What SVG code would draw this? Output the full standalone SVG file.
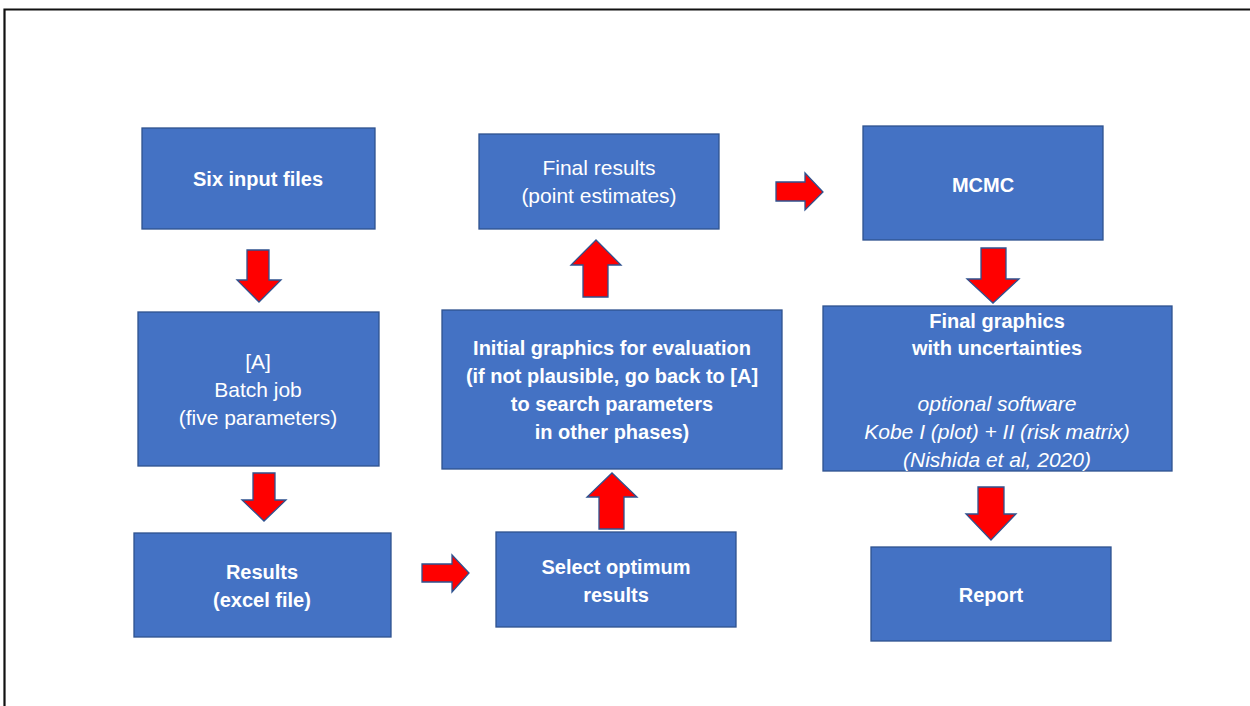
<svg xmlns="http://www.w3.org/2000/svg" width="1250" height="706" viewBox="0 0 1250 706">
<style>
.box{fill:#4472C4;stroke:#2F528F;stroke-width:1.3}
.arr{fill:#FF0000;stroke:#2F528F;stroke-width:1.3;stroke-linejoin:miter}
text{font-family:"Liberation Sans",Arial,sans-serif;font-size:21px;fill:#FFFFFF;text-anchor:middle}
.b{font-weight:bold;font-size:20px}
.i{font-style:italic}
</style>
<rect x="0" y="0" width="1250" height="706" fill="#FFFFFF"/>
<path d="M4.5 706 V9.5 H1250" fill="none" stroke="#111111" stroke-width="2.2"/>
<g id="connectors">
<polygon class="arr" points="247,250 269,250 269,280 281,280 259,302 237,280 247,280"/>
<polygon class="arr" points="253,473 275,473 275,500 286,500 264,521 242,500 253,500"/>
<polygon class="arr" points="422,564 452,564 452,555 469,573 452,592 452,582 422,582"/>
<polygon class="arr" points="599,529 624,529 624,497 637,497 612,473 587,497 599,497"/>
<polygon class="arr" points="583,297 608,297 608,265 621,265 596,240 571,265 583,265"/>
<polygon class="arr" points="776,182 805,182 805,173 823,192 805,210 805,201 776,201"/>
<polygon class="arr" points="981,248 1006,248 1006,279 1019,279 993,303 967,279 981,279"/>
<polygon class="arr" points="978,487 1004,487 1004,514 1016,514 991,540 966,514 978,514"/>
</g>
<g id="n1"><rect class="box" x="142" y="128" width="233" height="101"/><text class="b" x="258" y="186">Six input files</text></g>
<g id="n2"><rect class="box" x="138" y="312" width="241" height="154"/><text x="258" y="369">[A]</text><text x="258" y="397">Batch job</text><text x="258" y="425">(five parameters)</text></g>
<g id="n3"><rect class="box" x="134" y="533" width="257" height="104"/><text class="b" x="262" y="579">Results</text><text class="b" x="262" y="607">(excel file)</text></g>
<g id="n4"><rect class="box" x="496" y="532" width="240" height="95"/><text class="b" x="616" y="574">Select optimum</text><text class="b" x="616" y="602">results</text></g>
<g id="n5"><rect class="box" x="442" y="310" width="340" height="159"/><text class="b" x="612" y="355">Initial graphics for evaluation</text><text class="b" x="612" y="383">(if not plausible, go back to [A]</text><text class="b" x="612" y="411">to search parameters</text><text class="b" x="612" y="439">in other phases)</text></g>
<g id="n6"><rect class="box" x="479" y="134" width="240" height="95"/><text x="599" y="175">Final results</text><text x="599" y="203">(point estimates)</text></g>
<g id="n7"><rect class="box" x="863" y="126" width="240" height="114"/><text class="b" x="983" y="192">MCMC</text></g>
<g id="n8"><rect class="box" x="823" y="306" width="349" height="165"/><text class="b" x="997" y="328">Final graphics</text><text class="b" x="997" y="355">with uncertainties</text><text class="i" x="997" y="411">optional software</text><text class="i" x="997" y="439">Kobe I (plot) + II (risk matrix)</text><text class="i" x="997" y="467">(Nishida et al, 2020)</text></g>
<g id="n9"><rect class="box" x="871" y="547" width="240" height="94"/><text class="b" x="991" y="602">Report</text></g>
</svg>
